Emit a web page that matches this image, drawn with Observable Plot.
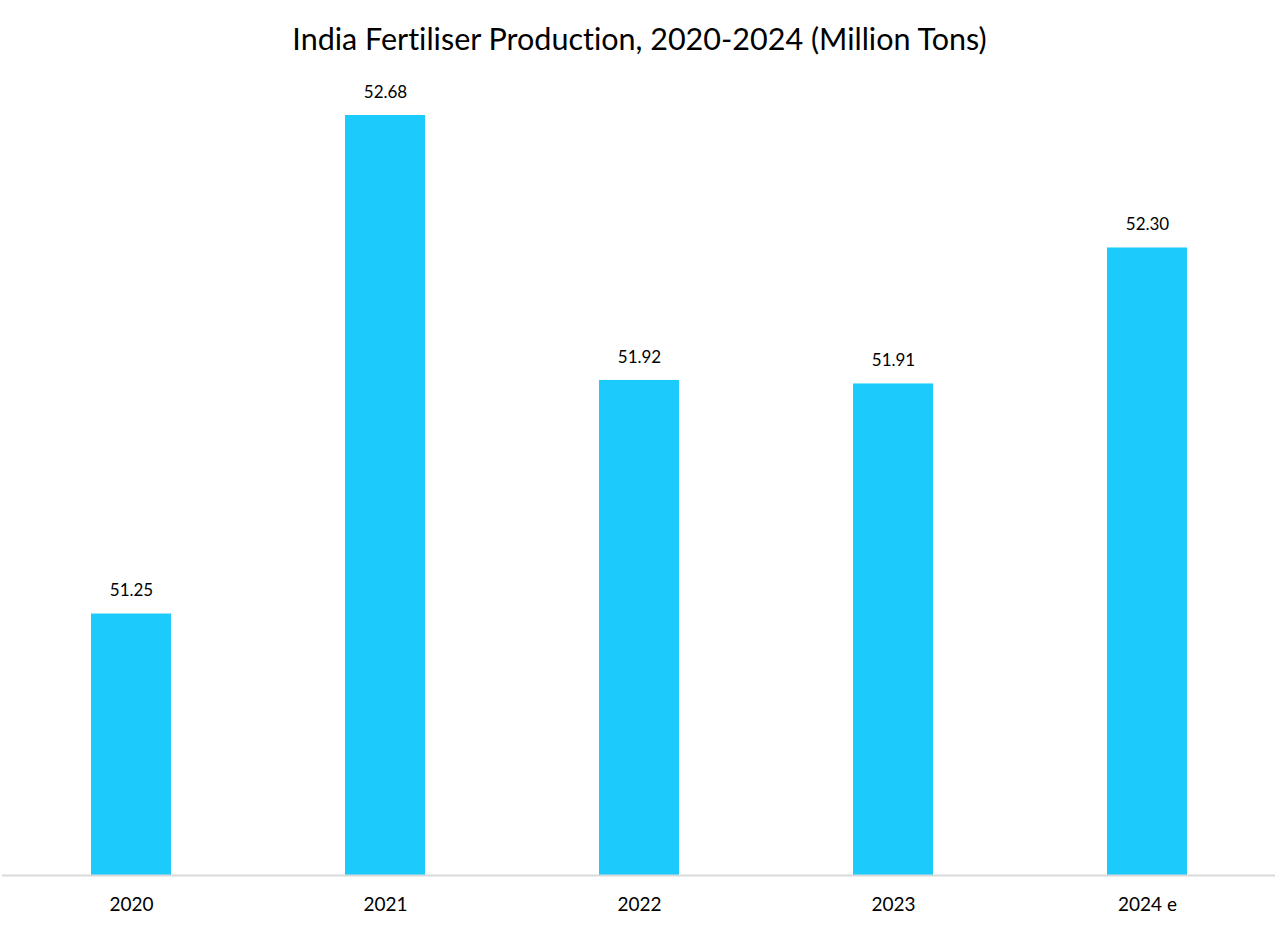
<!DOCTYPE html>
<html>
<head>
<meta charset="utf-8">
<script src="https://cdn.jsdelivr.net/npm/d3@7"></script>
<script src="https://cdn.jsdelivr.net/npm/@observablehq/plot@0.6"></script>
<style>
  html, body { margin: 0; padding: 0; background: #fff; }
  body { width: 1279px; height: 945px; overflow: hidden; font-family: Lato, "Noto Sans", sans-serif; font-variant-ligatures: none; }
  #title { height: 70px; line-height: 76px; text-align: center; font-size: 30.5px; color: #000; }
  svg text { font-variant-ligatures: none; }
</style>
</head>
<body>
<div id="title">India Fertiliser Production, 2020-2024 (Million Tons)</div>
<div id="chart"></div>
<script>
const years = ["2020", "2021", "2022", "2023", "2024 e"];
const production = [51.25, 52.68, 51.92, 51.91, 52.30];
const labels = ["51.25", "52.68", "51.92", "51.91", "52.30"];

const data = years.map((y, i) => ({year: y, value: production[i], label: labels[i]}));

const chart = Plot.plot({
  width: 1279,
  height: 875,
  marginLeft: 2,
  marginRight: 4,
  marginTop: 0,
  marginBottom: 70,
  style: {fontFamily: "Lato, 'Noto Sans', sans-serif", background: "#fff"},
  x: {domain: years, paddingInner: 0.686, paddingOuter: 0.343, label: null},
  y: {domain: [50.5, 52.68], range: [805, 45], axis: null},
  marks: [
    Plot.barY(data, {x: "year", y1: 50.5, y2: "value", fill: "#1CCAFC"}),
    Plot.ruleY([50.5], {stroke: "#d9d9d9", strokeWidth: 2}),
    Plot.text(data, {x: "year", y: "value", text: "label", dy: -23, fontSize: 17, fill: "#000"}),
    Plot.axisX({tickSize: 0, tickPadding: 22, fontSize: 19, fill: "#000", label: null})
  ]
});
document.getElementById("chart").appendChild(chart);
</script>
</body>
</html>
